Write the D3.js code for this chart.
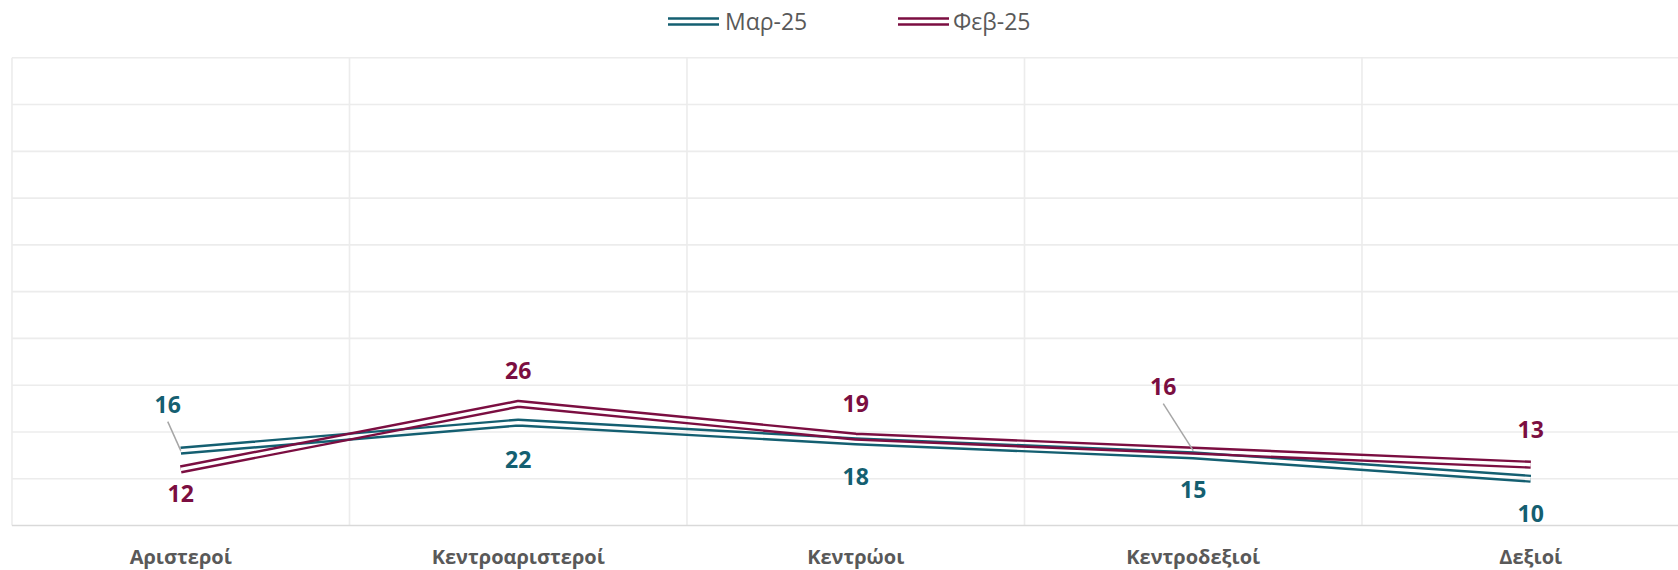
<!DOCTYPE html>
<html>
<head>
<meta charset="utf-8">
<script src="https://cdn.jsdelivr.net/npm/d3@7"></script>
<style>
  html, body { margin: 0; padding: 0; background: #ffffff; }
  svg { display: block; }
</style>
</head>
<body>
<svg id="chart" width="1678" height="570"></svg>
<script>
// ---- data ----
const categories = ["Αριστεροί", "Κεντροαριστεροί", "Κεντρώοι", "Κεντροδεξιοί", "Δεξιοί"];
const seriesNames = ["Μαρ-25", "Φεβ-25"];
const marValues = [16, 22, 18, 15, 10];
const febValues = [12, 26, 19, 16, 13];
const yTicks = [0, 10, 20, 30, 40, 50, 60, 70, 80, 90, 100];

// ---- layout / style ----
const W = 1678, H = 570;
const plotLeft = 12, step = 337.5;
const plotTop = 57.8, plotBottom = 525.5;
const colors = ["#145F71", "#7B0E41"];
const textGray = "#595959";
const font = "'Open Sans', 'Noto Sans', sans-serif";

// label placement (dx, dy from the point; leader line flag)
const labelPlacement = [
  [{dx: -13, dy: -46, leader: true}, {dx: 0, dy: 37}, {dx: 0, dy: 35}, {dx: 0, dy: 34}, {dx: 0, dy: 34.5}],
  [{dx: 0, dy: 24}, {dx: 0, dy: -33}, {dx: 0, dy: -33}, {dx: -30, dy: -64, leader: true}, {dx: 0, dy: -35}]
];

const series = [
  {name: seriesNames[0], values: marValues, color: colors[0]},
  {name: seriesNames[1], values: febValues, color: colors[1]}
];

const svg = d3.select("#chart");

const x = d3.scaleBand()
  .domain(categories)
  .range([plotLeft, plotLeft + step * categories.length])
  .padding(0);
const cx = c => x(c) + x.bandwidth() / 2;

const y = d3.scaleLinear().domain([0, 100]).range([plotBottom, plotTop]);

// ---- gridlines ----
const grid = svg.append("g");
grid.selectAll("line.h")
  .data(yTicks.filter(t => t > 0))
  .join("line")
  .attr("x1", plotLeft).attr("x2", W)
  .attr("y1", d => y(d)).attr("y2", d => y(d))
  .attr("stroke", "#ececec").attr("stroke-width", 1.6);

grid.selectAll("line.v")
  .data(categories)
  .join("line")
  .attr("x1", d => x(d)).attr("x2", d => x(d))
  .attr("y1", plotTop).attr("y2", plotBottom)
  .attr("stroke", "#ececec").attr("stroke-width", 1.6);

// x axis (bottom line + labels)
const xAxis = d3.axisBottom(x).tickSize(0).tickPadding(0);
const axisG = svg.append("g")
  .attr("transform", `translate(0,${y(0)})`)
  .call(xAxis);
axisG.select(".domain")
  .attr("d", `M${plotLeft},0H${W}`)
  .attr("stroke", "#d9d9d9").attr("stroke-width", 1.6);
axisG.selectAll(".tick text")
  .attr("y", 31)
  .attr("dy", "0.36em")
  .attr("fill", textGray)
  .attr("font-family", font)
  .attr("font-weight", "bold")
  .attr("font-size", 20);

// ---- double lines ----
const line = d3.line()
  .x((d, i) => cx(categories[i]))
  .y(d => y(d));

const defs = svg.append("defs");
series.forEach((s, si) => {
  const m = defs.append("mask")
    .attr("id", "mask" + si)
    .attr("maskUnits", "userSpaceOnUse")
    .attr("x", 0).attr("y", 0).attr("width", W).attr("height", H);
  m.append("rect").attr("width", W).attr("height", H).attr("fill", "white");
  m.append("path").attr("d", line(s.values))
    .attr("fill", "none").attr("stroke", "black")
    .attr("stroke-width", 3.4).attr("stroke-linejoin", "round");
});

series.forEach((s, si) => {
  svg.append("path")
    .attr("d", line(s.values))
    .attr("fill", "none")
    .attr("stroke", s.color)
    .attr("stroke-width", 8.2)
    .attr("stroke-linejoin", "round")
    .attr("mask", `url(#mask${si})`);
});

// ---- data labels ----
series.forEach((s, si) => {
  const g = svg.append("g");
  s.values.forEach((v, i) => {
    const p = labelPlacement[si][i];
    const px = cx(categories[i]), py = y(v);
    const lx = px + p.dx, ly = py + p.dy;
    if (p.leader) {
      g.append("line")
        .attr("x1", lx).attr("y1", ly + 17)
        .attr("x2", px).attr("y2", py)
        .attr("stroke", "#a6a6a6").attr("stroke-width", 1.5);
    }
    g.append("text")
      .attr("x", lx).attr("y", ly)
      .attr("dy", "0.36em")
      .attr("text-anchor", "middle")
      .attr("fill", s.color)
      .attr("font-family", font)
      .attr("font-weight", "bold")
      .attr("font-size", 23)
      .text(v);
  });
});

// ---- legend ----
const legendItems = [
  {x0: 668, x1: 719, tx: 725},
  {x0: 898, x1: 949, tx: 953}
];
series.forEach((s, si) => {
  const L = legendItems[si];
  const ly = 21.5;
  [-3, 3].forEach(off => {
    svg.append("line")
      .attr("x1", L.x0).attr("x2", L.x1)
      .attr("y1", ly + off).attr("y2", ly + off)
      .attr("stroke", s.color).attr("stroke-width", 2.6);
  });
  svg.append("text")
    .attr("x", L.tx).attr("y", ly)
    .attr("dy", "0.36em")
    .attr("fill", textGray)
    .attr("font-family", font)
    .attr("font-size", 23)
    .text(s.name);
});
</script>
</body>
</html>
